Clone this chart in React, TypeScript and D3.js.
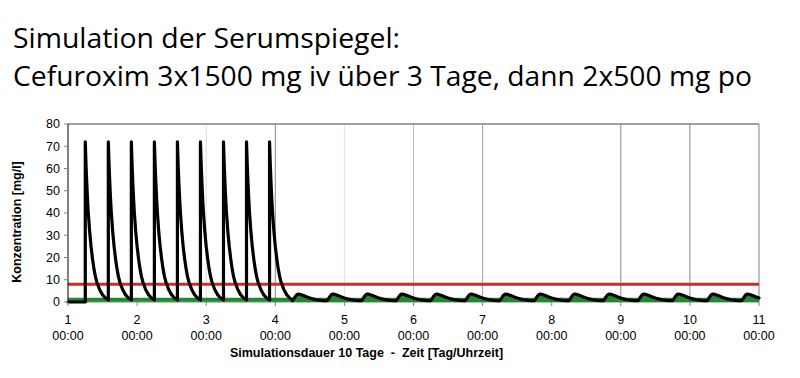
import React from "react";
import * as d3 from "d3";

// ---- data ----
const dayTicks = [1, 2, 3, 4, 5, 6, 7, 8, 9, 10, 11];
const timeLabel = "00:00";
const yTicks = [0, 10, 20, 30, 40, 50, 60, 70, 80];

// dose times in hours after day 1 00:00
const ivDoseHours = [6, 14, 22, 30, 38, 46, 54, 62, 70];
const oralDoseHours = [78, 90, 102, 114, 126, 138, 150, 162, 174, 186, 198, 210, 222, 234];
const endHour = 240;

// concentration profile after an iv dose (hours after dose -> mg/l)
const ivProfileHours = [0, 0.25, 0.5, 0.75, 1, 1.5, 2, 2.5, 3, 3.5, 4, 5, 6, 7, 8];
const ivProfileConc = [72, 62, 54, 47, 41, 32, 25, 19.5, 15, 11.5, 9, 5.5, 3.2, 1.8, 0.9];

// concentration profile after an oral dose
const oralProfileHours = [0, 0.5, 1, 1.5, 2, 2.5, 3, 4, 5, 6, 7, 8, 9, 10, 11, 12];
const oralProfileConc = [0.6, 1.5, 2.6, 3.3, 3.6, 3.5, 3.3, 2.8, 2.3, 1.8, 1.4, 1.1, 0.9, 0.7, 0.6, 0.6];

const redLevel = 8;
const greenLevel = 1;

const titleLine1 = "Simulation der Serumspiegel:";
const titleLine2 = "Cefuroxim 3x1500 mg iv über 3 Tage, dann 2x500 mg po";
const yTitle = "Konzentration [mg/l]";
const xTitle = "Simulationsdauer 10 Tage  -  Zeit [Tag/Uhrzeit]";

// gridline shade per day (as seen in the picture)
const gridShade: Record<number, string> = {
  3: "#dcdcdc",
  4: "#8a8a8a",
  5: "#e2e2e2",
  6: "#bdbdbd",
  7: "#a0a0a0",
  9: "#8a8a8a",
  10: "#8a8a8a",
};

type Pt = { h: number; c: number };

function buildSeries(): Pt[] {
  const pts: Pt[] = [{ h: 0, c: 0 }, { h: ivDoseHours[0], c: 0 }];
  const doses: { h: number; hs: number[]; cs: number[] }[] = [
    ...ivDoseHours.map((h) => ({ h, hs: ivProfileHours, cs: ivProfileConc })),
    ...oralDoseHours.map((h) => ({ h, hs: oralProfileHours, cs: oralProfileConc })),
  ];
  doses.forEach((d, i) => {
    const next = i + 1 < doses.length ? doses[i + 1].h : endHour;
    d.hs.forEach((t, j) => {
      if (d.h + t <= next) pts.push({ h: d.h + t, c: d.cs[j] });
    });
  });
  return pts;
}

export default function App() {
  const W = 800;
  const H = 378;
  const x = d3.scaleLinear().domain([1, 11]).range([68, 759]);
  const y = d3.scaleLinear().domain([0, 80]).range([302, 124]);
  const xh = (h: number) => x(1 + h / 24);

  const series = buildSeries();
  const line = d3
    .line<Pt>()
    .x((d) => xh(d.h))
    .y((d) => y(d.c))
    .curve(d3.curveLinear);

  const oralPts = series.filter((d) => d.h >= oralDoseHours[0]);
  const area = d3
    .area<Pt>()
    .x((d) => xh(d.h))
    .y0(y(0))
    .y1((d) => y(Math.min(d.c, 3)))
    .curve(d3.curveLinear);

  const axisFont = "'Liberation Sans', Arial, Helvetica, sans-serif";

  return (
    <svg width={W} height={H} style={{ display: "block", position: "absolute", left: 0, top: 0, background: "#fff" }}>
      <rect x={0} y={0} width={W} height={H} fill="#fff" />
      {/* title */}
      <text x={13} y={48} fontFamily="'Open Sans', Lato, sans-serif" fontSize={28} fill="#000"
        textLength={387} lengthAdjust="spacingAndGlyphs">{titleLine1}</text>
      <text x={13} y={86} fontFamily="'Open Sans', Lato, sans-serif" fontSize={28} fill="#000"
        textLength={739} lengthAdjust="spacingAndGlyphs">{titleLine2}</text>

      {/* vertical gridlines */}
      {dayTicks.map((d) =>
        gridShade[d] ? (
          <line key={"g" + d} x1={x(d)} x2={x(d)} y1={y(80)} y2={y(0)} stroke={gridShade[d]} strokeWidth={1} />
        ) : null
      )}

      {/* frame */}
      <line x1={x(1)} x2={x(11)} y1={y(80)} y2={y(80)} stroke="#808080" strokeWidth={1.5} />
      <line x1={x(11)} x2={x(11)} y1={y(80)} y2={y(0)} stroke="#808080" strokeWidth={1} />
      <line x1={x(1)} x2={x(11)} y1={y(0)} y2={y(0)} stroke="#808080" strokeWidth={1} />

      {/* threshold lines */}
      <line x1={x(1)} x2={x(11)} y1={y(redLevel)} y2={y(redLevel)} stroke="#d42a22" strokeWidth={3} />
      <path d={area(oralPts) || ""} fill="#1f8a2e" />
      <line x1={x(1)} x2={x(11)} y1={y(greenLevel)} y2={y(greenLevel)} stroke="#1f8a2e" strokeWidth={4} />

      {/* concentration curve */}
      <path d={line(series) || ""} fill="none" stroke="#000" strokeWidth={3.2} strokeLinejoin="round" strokeLinecap="round" />

      {/* y axis */}
      <line x1={x(1)} x2={x(1)} y1={y(80)} y2={y(0)} stroke="#000" strokeWidth={1} />
      {yTicks.map((t) => (
        <g key={"y" + t}>
          <line x1={x(1) - 4} x2={x(1)} y1={y(t)} y2={y(t)} stroke="#808080" />
          <text x={x(1) - 8} y={y(t)} dy="0.35em" textAnchor="end" fontFamily={axisFont} fontSize={12.5} fill="#000">
            {t}
          </text>
        </g>
      ))}

      {/* x axis */}
      {dayTicks.map((d) => (
        <g key={"x" + d}>
          <line x1={x(d)} x2={x(d)} y1={y(0)} y2={y(0) + 4} stroke="#808080" />
          <text x={x(d)} y={324} textAnchor="middle" fontFamily={axisFont} fontSize={12.5} fill="#000">
            {d}
          </text>
          <text x={x(d)} y={340} textAnchor="middle" fontFamily={axisFont} fontSize={12.5} fill="#000">
            {timeLabel}
          </text>
        </g>
      ))}

      <text x={366.5} y={357} textAnchor="middle" fontFamily={axisFont} fontSize={12.5} fontWeight="bold" fill="#000"
        style={{ whiteSpace: "pre" }}>
        {xTitle}
      </text>
      <text transform="translate(21,222) rotate(-90)" textAnchor="middle" fontFamily={axisFont} fontSize={12.5}
        fontWeight="bold" fill="#000">
        {yTitle}
      </text>
    </svg>
  );
}
